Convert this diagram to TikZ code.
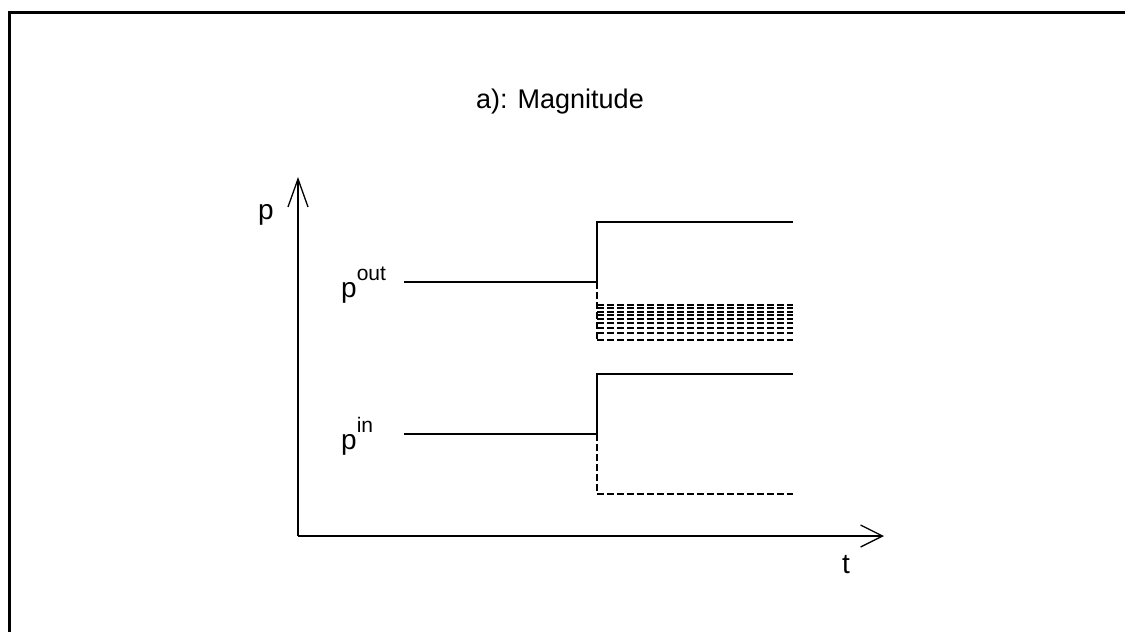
\documentclass[tikz,border=0pt]{standalone}
\usepackage{fontspec}
\setmainfont{Liberation Sans}
\usetikzlibrary{arrows.meta}
\begin{document}
\begin{tikzpicture}[x=1pt,y=-1pt,
  curve/.style={line width=1.3pt},
  dcurve/.style={line width=1.3pt,dash pattern=on 7pt off 3pt},
  axisline/.style={line width=1.3pt},
  lbl/.style={inner sep=0pt,font=\fontsize{28}{28}\selectfont},
  frameline/.style={line width=3pt}]
\useasboundingbox (0,0) rectangle (1125,632);
\fill[white] (0,0) rectangle (1125,632);
% frame
\coordinate (fa) at (1125,12);
\coordinate (fb) at (9,12);
\coordinate (fc) at (9,632);
\draw[frameline] (fa) -- (fb) -- (fc);
% title
\node[lbl,anchor=base,font=\fontsize{27}{27}\selectfont] (title) at (560,108) {a): Magnitude};
% axes
\coordinate (O) at (298,536);
\coordinate (ytip) at (298,177);
\coordinate (xtip) at (884,536);
\draw[axisline,-{Straight Barb[length=28pt,width=20pt,line width=1.3pt]}] (O) -- (ytip);
\draw[axisline,-{Straight Barb[length=22pt,width=22pt,line width=1.3pt]}] (O) -- (xtip);
\node[lbl,anchor=base west] (plab) at (258,219) {p};
\node[lbl,anchor=base] (tlab) at (846,573) {t};
% p out
\node[lbl,anchor=base west] (pout) at (341,297) {p\raisebox{17pt}{\fontsize{21}{21}\selectfont out}};
\coordinate (o1) at (404,282);
\coordinate (o2) at (597,282);
\coordinate (o3) at (597,222);
\coordinate (o4) at (793,222);
\draw[curve] (o1) -- (o2) -- (o3) -- (o4);
\coordinate (o5) at (597,340);
\draw[dcurve] (o2) -- (o5);
\foreach \yy in {305,308,312,315,319,323,328,333,340}{
  \coordinate (d\yy a) at (597,\yy);
  \coordinate (d\yy b) at (793,\yy);
  \draw[dcurve] (d\yy a) -- (d\yy b);
}
% p in
\node[lbl,anchor=base west] (pin) at (341,449) {p\raisebox{17pt}{\fontsize{21}{21}\selectfont in}};
\coordinate (i1) at (404,434);
\coordinate (i2) at (597,434);
\coordinate (i3) at (597,374);
\coordinate (i4) at (793,374);
\draw[curve] (i1) -- (i2) -- (i3) -- (i4);
\coordinate (i5) at (597,494);
\coordinate (i6) at (793,494);
\draw[dcurve] (i2) -- (i5) -- (i6);
\end{tikzpicture}
\end{document}
